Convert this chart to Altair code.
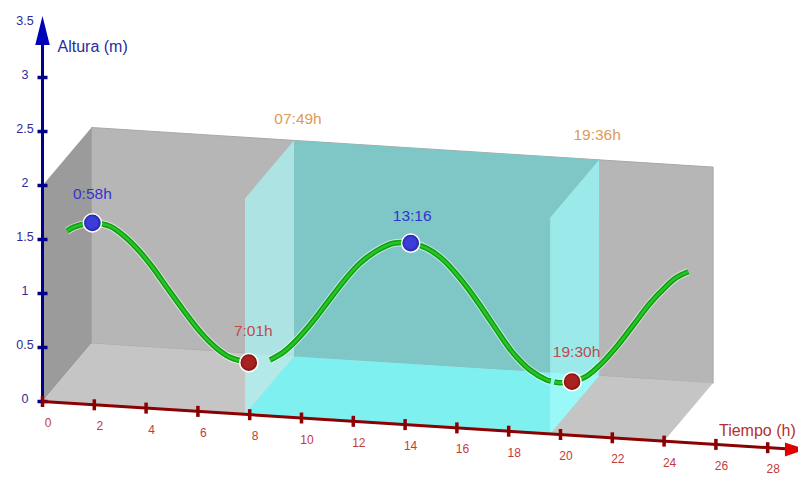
import altair as alt
import pandas as pd

# Chart values (hours, metres)
curve_t = [0.0, 0.31, 0.98, 1.66, 2.24, 2.82, 3.33, 3.85, 4.49, 5.14, 5.78, 6.29, 7.03,
           7.84, 8.35, 8.80, 9.38, 10.03, 10.67, 11.31, 11.96, 12.6, 13.31, 13.89, 14.53,
           15.17, 15.82, 16.33, 16.59, 17.23, 17.88, 18.52, 18.68,
           18.82, 19.03, 19.53, 20.07, 20.58, 21.22, 21.87, 22.51, 23.15, 23.53, 23.99]
curve_h = [1.31, 1.355, 1.40, 1.38, 1.29, 1.16, 1.016, 0.848, 0.647, 0.456, 0.312, 0.237, 0.198,
           0.235, 0.315, 0.419, 0.583, 0.794, 1.004, 1.184, 1.31, 1.389, 1.40, 1.362, 1.264,
           1.104, 0.908, 0.735, 0.647, 0.441, 0.296, 0.214, 0.206,
           0.20, 0.196, 0.213, 0.274, 0.384, 0.563, 0.774, 0.984, 1.155, 1.239, 1.30]
curve_seg = [0] * 13 + [1] * 20 + [2] * 11

tide_t = [0.98, 13.27, 7.02, 19.5]
tide_h = [1.40, 1.40, 0.198, 0.213]
tide_labels = ["0:58h", "13:16", "7:01h", "19:30h"]
tide_kind = ["alta", "alta", "baja", "baja"]

sun_t = [7.82, 19.6]
sun_labels = ["07:49h", "19:36h"]

x_ticks = list(range(0, 30, 2))
y_ticks = [0, 0.5, 1, 1.5, 2, 2.5, 3]
y_tick_labels = ["0", "0.5", "1", "1.5", "2", "2.5", "3", "3.5"]
box_t = [0, 24]
box_h = [0, 2]

FONT = "Liberation Sans"
NAVY, DKRED = "#00008b", "#8b0000"


# Oblique view: time, height and depth onto the picture plane
def proj(t, h=0.0, d=0.0):
    return 42.5 + 25.9 * t + 49 * d, 401.5 + 1.65 * t - 108 * h - 58 * d


def face(corners):
    pts = [proj(*c) for c in corners]
    edges = list(zip(pts, pts[1:] + pts[:1]))
    rows = []
    for x in sorted({p[0] for p in pts}):
        ys = []
        for (x0, y0), (x1, y1) in edges:
            if x0 == x1:
                if x0 == x:
                    ys += [y0, y1]
            elif min(x0, x1) <= x <= max(x0, x1):
                ys.append(y0 + (y1 - y0) * (x - x0) / (x1 - x0))
        rows.append({"x": x, "y": min(ys), "y2": max(ys)})
    return rows


def ball(inner, outer):
    return alt.RadialGradient(
        gradient="radial", x1=0.45, y1=0.45, x2=0.5, y2=0.5, r1=0.0, r2=0.5,
        stops=[alt.GradientStop(color=inner, offset=0), alt.GradientStop(color=inner, offset=0.6),
               alt.GradientStop(color=outer, offset=1)])


X = alt.Scale(domain=[8, 798], nice=False, zero=False)
Y = alt.Scale(domain=[469, 8], nice=False, zero=False)
ex = alt.X("x:Q", scale=X, axis=None)
ey = alt.Y("y:Q", scale=Y, axis=None)


def area(corners, **kw):
    return alt.Chart(pd.DataFrame(face(corners))).mark_area(**kw).encode(ex, ey, y2="y2:Q")


t0, t1 = box_t
h0, h1 = box_h
s0, s1 = sun_t
layers = [
    area([(t0, h0, 1), (t1, h0, 1), (t1, h1, 1), (t0, h1, 1)], color="#b6b6b6", stroke="#a8a8a8", strokeWidth=1),
    area([(t0, h0, 0), (t0, h0, 1), (t0, h1, 1), (t0, h1, 0)], color="#9b9b9b"),
    area([(t0, h0, 0), (t1, h0, 0), (t1, h0, 1), (t0, h0, 1)], color="#c5c5c5"),
    area([(s0, h0, 1), (s1, h0, 1), (s1, h1, 1), (s0, h1, 1)], color="#7fc6c6"),
    area([(s0, h0, 0), (s1, h0, 0), (s1, h0, 1), (s0, h0, 1)], color="#7ef0f0"),
    area([(s0, h0, 0), (s0, h0, 1), (s0, h1, 1), (s0, h1, 0)], color="#aafcfc", opacity=0.65),
    area([(s1, h0, 0), (s1, h0, 1), (s1, h1, 1), (s1, h1, 0)], color="#aafcfc", opacity=0.65),
]

# Tide curve, drawn on the middle plane of the box
cdf = pd.DataFrame({"t": curve_t, "h": curve_h, "seg": curve_seg})
cdf["x"], cdf["y"] = proj(cdf["t"], cdf["h"], 0.5)
line = alt.Chart(cdf)
for col, w, op in [("#ffffff", 7.5, 0.55), ("#0ea00e", 5.5, 1), ("#2ac82a", 2.5, 0.9)]:
    layers.append(line.mark_line(color=col, strokeWidth=w, opacity=op, interpolate="catmull-rom", strokeCap="butt")
                  .encode(ex, ey, detail="seg:N", order="t:Q"))

# High and low tide points with labels
pdf = pd.DataFrame({"t": tide_t, "h": tide_h, "label": tide_labels, "kind": tide_kind})
pdf["x"], pdf["y"] = proj(pdf["t"], pdf["h"], 0.5)
for kind, inner, outer, txt in [("alta", "#3c3cd8", "#1c1c9c", "#3333cc"), ("baja", "#a82222", "#7c0c0c", "#c04a4a")]:
    sub = alt.Chart(pdf[pdf.kind == kind])
    layers.append(sub.mark_circle(size=330, fill=ball(inner, outer), opacity=1, stroke="#ffffff", strokeWidth=1.5)
                  .encode(ex, ey))
for label, dx, dy in [("0:58h", 0, -29), ("13:16", 1.5, -27), ("7:01h", 4.5, -32), ("19:30h", 4.5, -29.5)]:
    sub = pdf[pdf.label == label]
    txt = "#3333cc" if sub.kind.iloc[0] == "alta" else "#c04a4a"
    layers.append(alt.Chart(sub).mark_text(font=FONT, fontSize=15.5, color=txt, dx=dx, dy=dy)
                  .encode(ex, ey, text="label:N"))

# Sunrise and sunset labels above the slab's back edge
sdf = pd.DataFrame({"t": sun_t, "label": sun_labels})
sdf["x"], sdf["y"] = proj(sdf["t"], 2, 1)
for label, dx, dy in [("07:49h", 4, -21), ("19:36h", -2, -25)]:
    layers.append(alt.Chart(sdf[sdf.label == label]).mark_text(font=FONT, fontSize=15.5, color="#dc9c55", dx=dx, dy=dy)
                  .encode(ex, ey, text="label:N"))

# Height axis
axy = pd.DataFrame({"h": [0, 3.3]})
axy["x"], axy["y"] = proj(0, axy["h"])
layers.append(alt.Chart(axy).mark_line(color=NAVY, strokeWidth=3, strokeCap="butt").encode(ex, ey))
ty = pd.DataFrame({"h": y_ticks})
ty["x"], ty["y"] = proj(0, ty["h"])
layers.append(alt.Chart(ty).mark_point(shape="M-1,-0.35H1V0.35H-1Z", size=100, filled=True, color=NAVY, opacity=1).encode(ex, ey))
tly = pd.DataFrame({"h": y_ticks + [3.5], "label": y_tick_labels})
tly["x"], tly["y"] = proj(0, tly["h"])
layers.append(alt.Chart(tly).mark_text(font=FONT, fontSize=12.5, color="#2b2b9c", dx=-17.5, dy=-3)
              .encode(ex, ey, text="label:N"))
ay = pd.DataFrame({"h": [3.435]})
ay["x"], ay["y"] = proj(0, ay["h"])
layers.append(alt.Chart(ay).mark_point(shape="M0,-1L0.5,1L-0.5,1Z", size=841, filled=True, color="#0000b8", opacity=1).encode(ex, ey))
ly = pd.DataFrame({"h": [3.3], "label": ["Altura (m)"]})
ly["x"], ly["y"] = proj(0, ly["h"])
layers.append(alt.Chart(ly).mark_text(font=FONT, fontSize=16, color="#2b2b9c", align="left", dx=15, dy=1.5)
              .encode(ex, ey, text="label:N"))

# Time axis
axx = pd.DataFrame({"t": [0, 28.7]})
axx["x"], axx["y"] = proj(axx["t"])
layers.append(alt.Chart(axx).mark_line(color=DKRED, strokeWidth=3, strokeCap="butt").encode(ex, ey))
tx = pd.DataFrame({"t": x_ticks, "label": [str(v) for v in x_ticks]})
tx["x"], tx["y"] = proj(tx["t"])
layers.append(alt.Chart(tx).mark_point(shape="M-0.32,-1H0.32V1H-0.32Z", size=121, filled=True, color=DKRED, opacity=1).encode(ex, ey))
layers.append(alt.Chart(tx).mark_text(font=FONT, fontSize=12, color="#c23b3b", dx=5.5, dy=21.5, baseline="middle")
              .encode(ex, ey, text="label:N"))
ax = pd.DataFrame({"t": [29.07]})
ax["x"], ax["y"] = proj(ax["t"])
layers.append(alt.Chart(ax).mark_point(shape="M1,0L-1,0.667L-1,-0.667Z", size=441, filled=True, color="#e00000", opacity=1, clip=False).encode(ex, ey))
lx = pd.DataFrame({"t": [27.6], "label": ["Tiempo (h)"]})
lx["x"], lx["y"] = proj(lx["t"])
layers.append(alt.Chart(lx).mark_text(font=FONT, fontSize=16, color="#b23030", dx=0, dy=-16)
              .encode(ex, ey, text="label:N"))

chart = (
    alt.layer(*layers)
    .properties(width=790, height=461, padding={"left": 0, "top": 0, "right": 0, "bottom": 8},
                autosize=alt.AutoSizeParams(type="none"), background="#ffffff")
    .configure_view(stroke=None)
)
chart.save("out.html", embed_options={"renderer": "svg", "actions": False})
